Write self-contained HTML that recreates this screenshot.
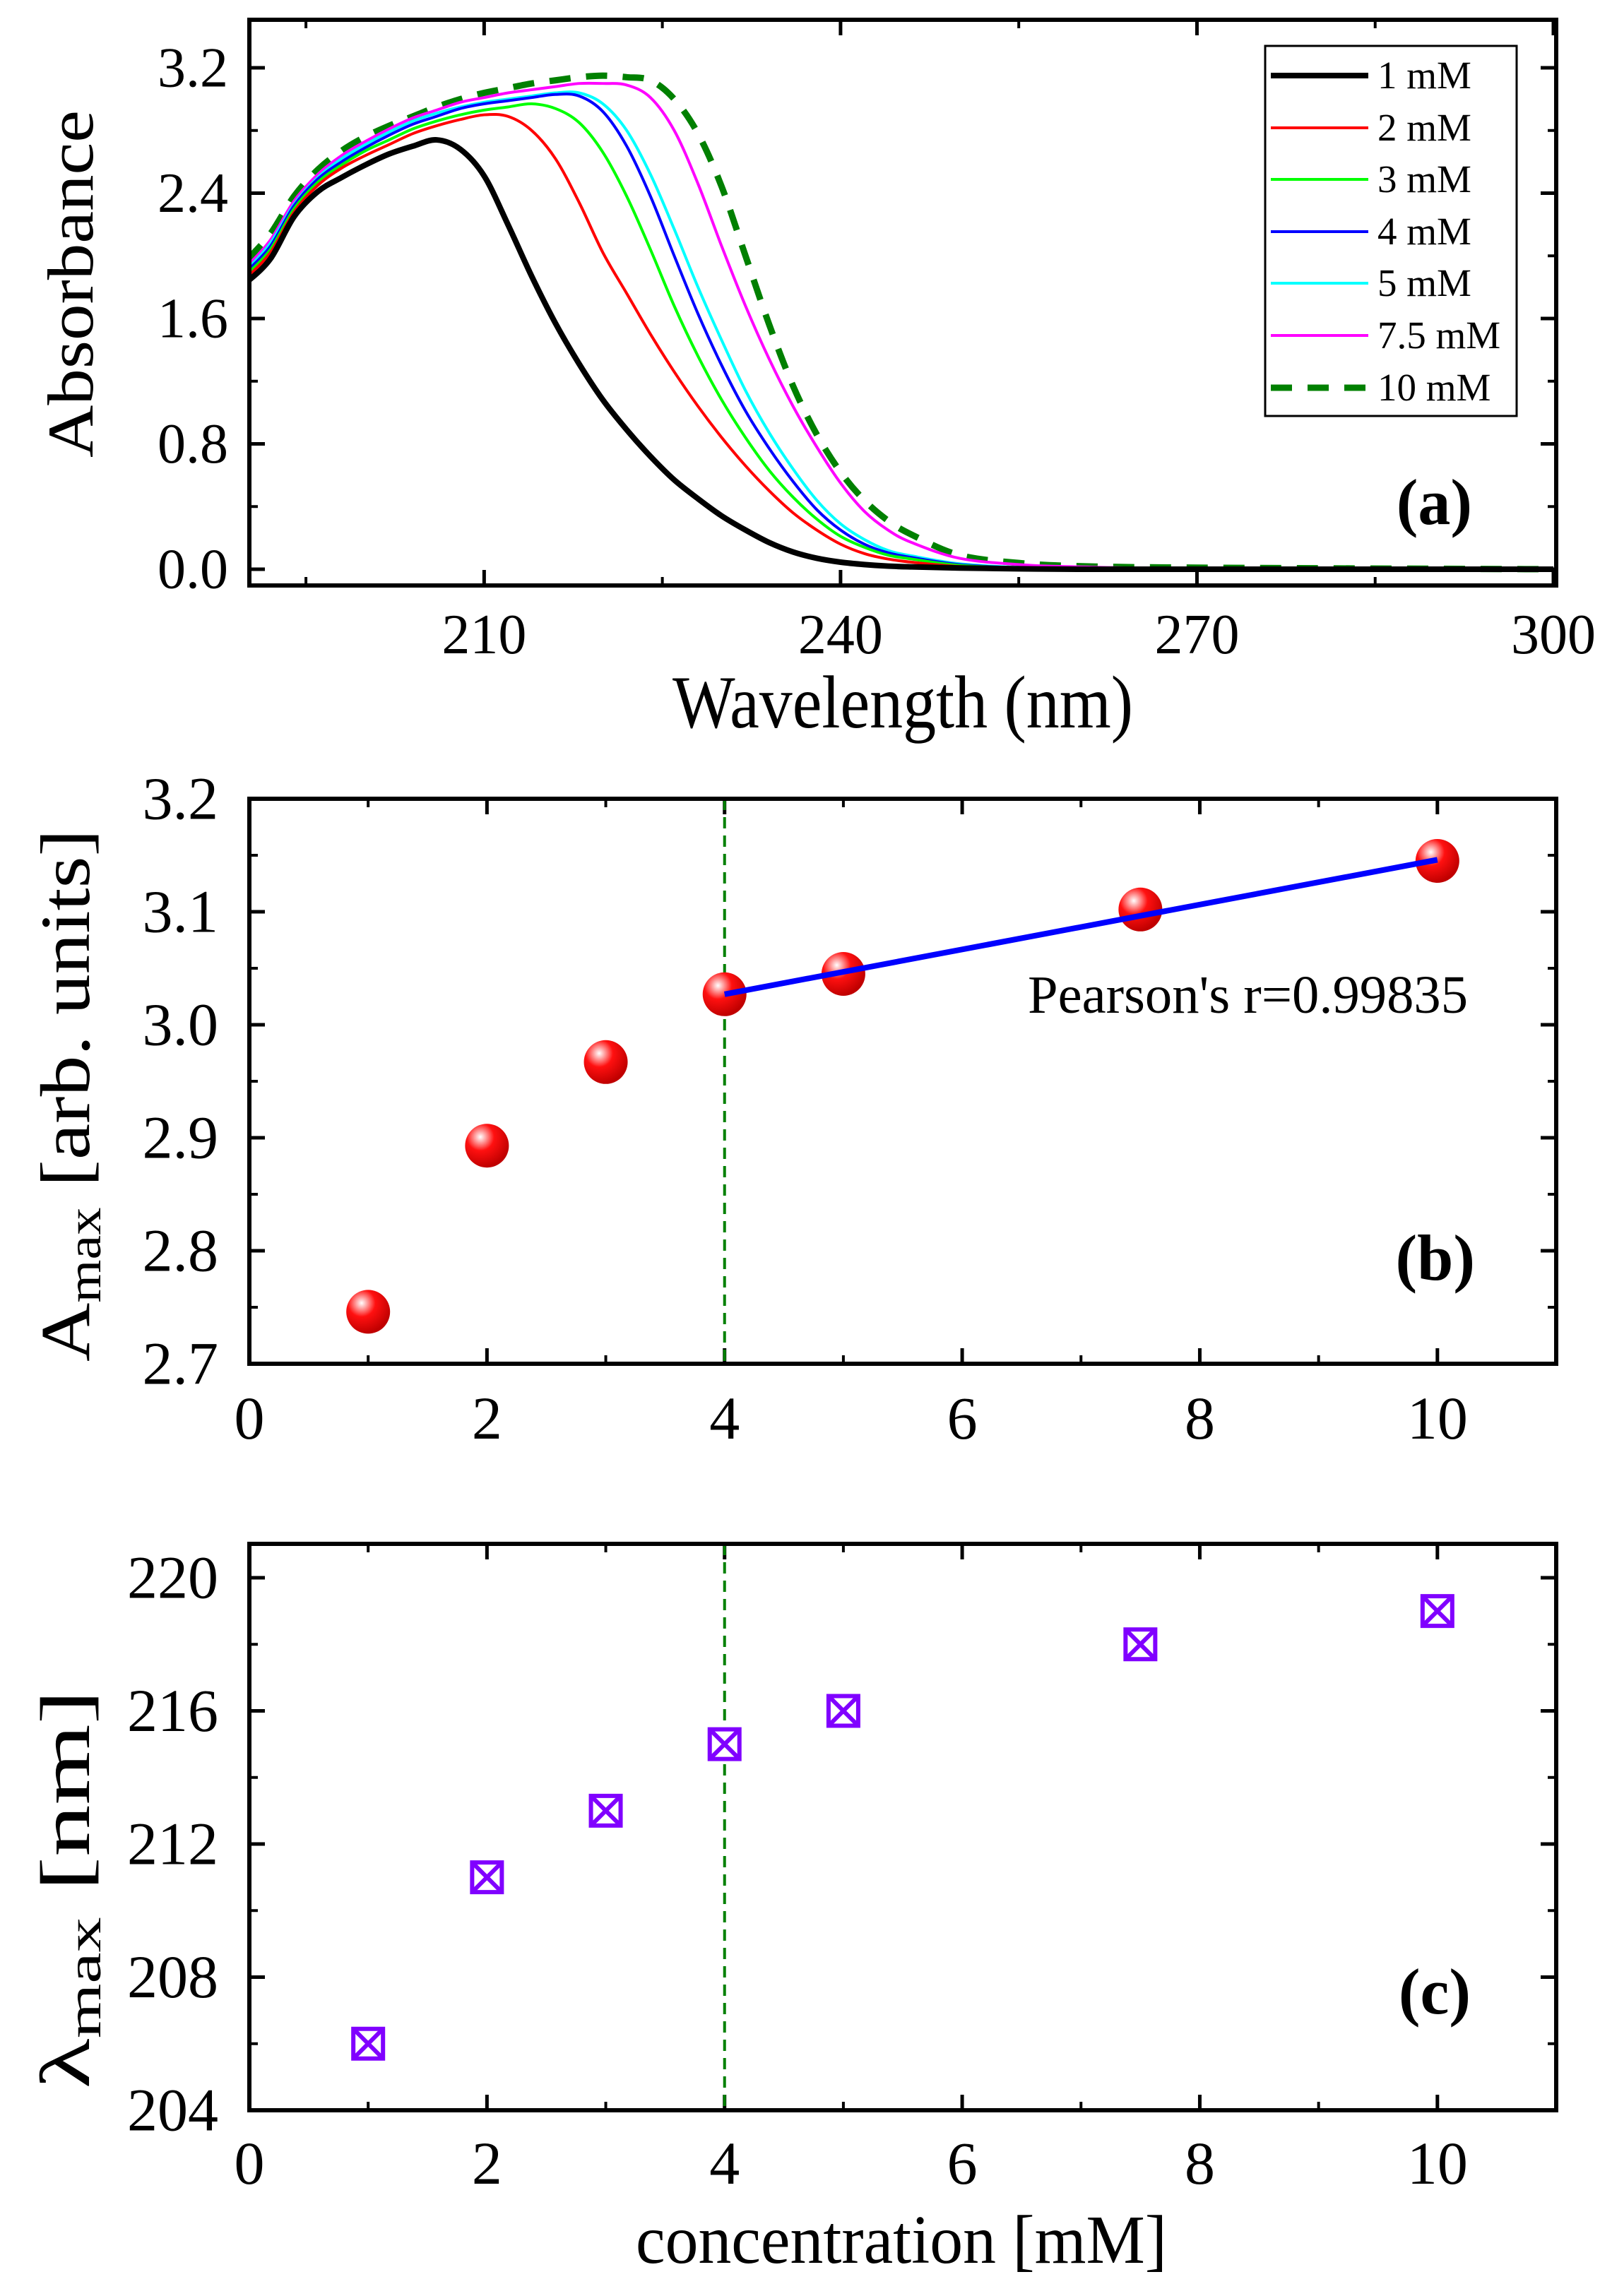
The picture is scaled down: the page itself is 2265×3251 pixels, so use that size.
<!DOCTYPE html>
<html><head><meta charset="utf-8"><style>
html,body{margin:0;padding:0;background:#fff}
svg{display:block}
text{font-family:"Liberation Serif",serif;fill:#000}
</style></head>
<body>
<svg id="fig" width="2265" height="3251" viewBox="0 0 2265 3251" xmlns="http://www.w3.org/2000/svg">
<rect width="2265" height="3251" fill="#fff"/>
<g id="pa"></g>
<g id="pb"></g>
<g id="pc"></g>
</svg>
<script>
// ---- Panel (a) data ----
const wavelengths = [190,192,194,196,198,200,202,204,206,208,210,212,214,216,218,220,222,224,226,228,230,232,234,236,238,240,242,244,246,250,255,260,270,300];
const seriesNames = ["1 mM","2 mM","3 mM","4 mM","5 mM","7.5 mM","10 mM"];
const abs1mM  = [1.83,1.98,2.25,2.41,2.50,2.58,2.65,2.70,2.74,2.68,2.51,2.20,1.87,1.57,1.31,1.08,0.89,0.72,0.57,0.45,0.34,0.25,0.17,0.11,0.07,0.045,0.03,0.02,0.015,0.008,0.003,0,0,0];
const abs2mM  = [1.86,2.02,2.28,2.45,2.56,2.64,2.71,2.78,2.83,2.87,2.90,2.89,2.80,2.62,2.34,2.02,1.76,1.50,1.26,1.04,0.84,0.66,0.50,0.36,0.25,0.16,0.10,0.065,0.045,0.018,0.006,0.002,0,0];
const abs3mM  = [1.88,2.04,2.30,2.47,2.58,2.67,2.74,2.81,2.86,2.90,2.93,2.95,2.97,2.94,2.85,2.66,2.38,2.04,1.68,1.36,1.08,0.84,0.63,0.46,0.32,0.21,0.14,0.09,0.065,0.025,0.01,0.004,0,0];
const abs4mM  = [1.90,2.06,2.32,2.49,2.60,2.69,2.77,2.84,2.89,2.94,2.97,2.99,3.01,3.03,3.02,2.92,2.70,2.38,2.00,1.63,1.30,1.01,0.77,0.56,0.38,0.25,0.16,0.105,0.075,0.03,0.01,0.005,0,0];
const abs5mM  = [1.91,2.08,2.33,2.50,2.62,2.71,2.79,2.86,2.91,2.95,2.98,3.00,3.02,3.04,3.04,2.97,2.80,2.52,2.17,1.80,1.46,1.14,0.87,0.64,0.44,0.29,0.19,0.12,0.085,0.035,0.012,0.005,0,0];
const abs75mM = [1.93,2.10,2.35,2.52,2.64,2.73,2.81,2.88,2.93,2.98,3.01,3.04,3.06,3.08,3.10,3.10,3.09,3.01,2.80,2.46,2.06,1.68,1.34,1.04,0.78,0.55,0.37,0.25,0.17,0.07,0.03,0.015,0.005,0];
const abs10mM = [1.97,2.14,2.38,2.55,2.67,2.76,2.83,2.89,2.95,3.00,3.04,3.07,3.10,3.12,3.14,3.15,3.14,3.12,3.00,2.78,2.44,2.00,1.56,1.17,0.86,0.62,0.44,0.31,0.22,0.09,0.04,0.02,0.01,0];
const seriesColors = ["#000000","#ff0000","#00ff00","#0000ff","#00ffff","#ff00ff","#008000"];
const xTicksA = [210,240,270,300];
const yTicksA = ["0.0","0.8","1.6","2.4","3.2"];
// ---- Panel (b),(c) data ----
const conc = [1,2,3,4,5,7.5,10];
const aMax = [2.746,2.893,2.967,3.027,3.045,3.102,3.145];
const fitX = [4,10];
const fitY = [3.027,3.146];
const lambdaMax = [206,211,213,215,216,218,219];
const xTicksBC = [0,2,4,6,8,10];
const yTicksB = ["2.7","2.8","2.9","3.0","3.1","3.2"];
const yTicksC = ["204","208","212","216","220"];
const pearsonText = "Pearson's r=0.99835";

const NS="http://www.w3.org/2000/svg";
function mk(parent,tag,attrs,txt){const e=document.createElementNS(NS,tag);for(const k in attrs)e.setAttribute(k,attrs[k]);if(txt!==undefined)e.textContent=txt;parent.appendChild(e);return e;}
function lin(d0,d1,r0,r1){return v=>r0+(v-d0)*(r1-r0)/(d1-d0);}

function frame(g,L,T,R,B,xs,ys,xMaj,xMin,yMaj,yMin,xLab,yLab,lfs,xOff,yGap){
  for(const v of xMaj){const x=xs(v);
    let t=mk(g,'line',{x1:x,y1:B,x2:x,y2:B-22,stroke:'#000','stroke-width':5});
    
    t=mk(g,'line',{x1:x,y1:T,x2:x,y2:T+22,stroke:'#000','stroke-width':5});
    }
  for(const v of xMin){const x=xs(v);
    let t=mk(g,'line',{x1:x,y1:B,x2:x,y2:B-12,stroke:'#000','stroke-width':4});
    
    t=mk(g,'line',{x1:x,y1:T,x2:x,y2:T+12,stroke:'#000','stroke-width':4});
    }
  for(const v of yMaj){const y=ys(v);
    let t=mk(g,'line',{x1:L,y1:y,x2:L+22,y2:y,stroke:'#000','stroke-width':5});
    
    t=mk(g,'line',{x1:R,y1:y,x2:R-22,y2:y,stroke:'#000','stroke-width':5});
    }
  for(const v of yMin){const y=ys(v);
    let t=mk(g,'line',{x1:L,y1:y,x2:L+12,y2:y,stroke:'#000','stroke-width':4});
    
    t=mk(g,'line',{x1:R,y1:y,x2:R-12,y2:y,stroke:'#000','stroke-width':4});
    }
  for(let i=0;i<xMaj.length;i++){const t=mk(g,'text',{x:xs(xMaj[i]),y:B+xOff,'font-size':lfs,'text-anchor':'middle'},xLab[i]);
    }
  for(let i=0;i<yMaj.length;i++){const t=mk(g,'text',{x:L-yGap,y:ys(yMaj[i])+lfs*0.33,'font-size':lfs,'text-anchor':'end'},yLab[i]);
    }
}
function border(g,L,T,R,B){const r=mk(g,'rect',{x:L,y:T,width:R-L,height:B-T,fill:'none',stroke:'#000','stroke-width':6});
  }
function smoothPath(pts){let d=`M${pts[0][0]},${pts[0][1]}`;
  for(let i=0;i<pts.length-1;i++){const p0=pts[Math.max(0,i-1)],p1=pts[i],p2=pts[i+1],p3=pts[Math.min(pts.length-1,i+2)];
    const c1=[p1[0]+(p2[0]-p0[0])/6,p1[1]+(p2[1]-p0[1])/6],c2=[p2[0]-(p3[0]-p1[0])/6,p2[1]-(p3[1]-p1[1])/6];
    d+=` C${c1[0]},${c1[1]} ${c2[0]},${c2[1]} ${p2[0]},${p2[1]}`;}
  return d;}

// ---------- Panel A ----------
(function(){
  const g=document.getElementById('pa');
  const L=353,R=2203,T=28,B=829;
  const xs=lin(190,300,349,2199), ys=lin(0,3.2,806,96);
  const yVals=yTicksA.map(Number);
  frame(g,L,T,R,B,xs,ys,xTicksA,[195,225,255,285],yVals,[0.4,1.2,2.0,2.8],xTicksA.map(String),yTicksA,80,96,30);
  const all=[abs1mM,abs2mM,abs3mM,abs4mM,abs5mM,abs75mM,abs10mM];
  const clip=mk(g,'clipPath',{id:'cpa'});mk(clip,'rect',{x:L,y:T,width:R-L,height:B-T});
  for(let s=all.length-1;s>=0;s--){
    const pts=wavelengths.map((w,i)=>[xs(w),ys(all[s][i])]);
    const p=mk(g,'path',{d:smoothPath(pts),fill:'none',stroke:seriesColors[s],'stroke-width':s===0?8:(s===6?9:4),'clip-path':'url(#cpa)'});
    if(s===6)p.setAttribute('stroke-dasharray','30 22');
    
    
  }
  border(g,L,T,R,B);
  const lg=mk(g,'g',{});
  
  mk(lg,'rect',{x:1791,y:65,width:356,height:524,fill:'#fff',stroke:'#000','stroke-width':3});
  const ly=[107,181,254,328,401,475,549];
  for(let s=0;s<7;s++){
    const e=mk(lg,'g',{});
    
    const l=mk(e,'line',{x1:1799,y1:ly[s],x2:1937,y2:ly[s],stroke:seriesColors[s],'stroke-width':s===0?8:(s===6?9:4)});
    if(s===6)l.setAttribute('stroke-dasharray','30 22');
    mk(e,'text',{x:1950,y:ly[s]+18,'font-size':55},seriesNames[s]);
  }
  let t=mk(g,'text',{x:2084,y:742,'font-size':92,'font-weight':'bold','text-anchor':'end'},'(a)');
  
  t=mk(g,'text',{x:1278,y:1030,'font-size':106,'text-anchor':'middle',textLength:652,lengthAdjust:'spacingAndGlyphs'},'Wavelength (nm)');
  
  t=mk(g,'text',{x:0,y:0,'font-size':92,'text-anchor':'middle',textLength:492,lengthAdjust:'spacingAndGlyphs',transform:'translate(131,402) rotate(-90)','font-family':'Liberation Sans, sans-serif'},'Absorbance');
  
})();

// ---------- Panel B ----------
(function(){
  const g=document.getElementById('pb');
  const L=353,R=2203,T=1131,B=1931;
  const xs=lin(0,11,L,R), ys=lin(2.7,3.2,B,T);
  frame(g,L,T,R,B,xs,ys,xTicksBC,[1,3,5,7,9],yTicksB.map(Number),[2.75,2.85,2.95,3.05,3.15],xTicksBC.map(String),yTicksB,86,106,44);
  let v=mk(g,'line',{x1:xs(4),y1:T,x2:xs(4),y2:B,stroke:'#008000','stroke-width':4,'stroke-dasharray':'16 10'});
  
  const defs=mk(g,'defs',{});
  const rg=mk(defs,'radialGradient',{id:'ball',cx:'0.35',cy:'0.3',r:'0.7'});
  mk(rg,'stop',{offset:'0','stop-color':'#ffffff'});
  mk(rg,'stop',{offset:'0.15','stop-color':'#ffb0b0'});
  mk(rg,'stop',{offset:'0.45','stop-color':'#ff1010'});
  mk(rg,'stop',{offset:'1','stop-color':'#c00000'});
  for(let i=0;i<conc.length;i++){
    const c=mk(g,'circle',{cx:xs(conc[i]),cy:ys(aMax[i]),r:31,fill:'url(#ball)'});
    
  }
  const f=mk(g,'line',{x1:xs(fitX[0]),y1:ys(fitY[0]),x2:xs(fitX[1]),y2:ys(fitY[1]),stroke:'#0000ff','stroke-width':8});
  
  border(g,L,T,R,B);
  let t=mk(g,'text',{x:2078,y:1434,'font-size':76,'text-anchor':'end',textLength:623,lengthAdjust:'spacingAndGlyphs'},pearsonText);
  
  t=mk(g,'text',{x:2088,y:1812,'font-size':92,'font-weight':'bold','text-anchor':'end'},'(b)');
  
  t=mk(g,'text',{x:0,y:0,'font-size':100,'text-anchor':'middle',textLength:754,lengthAdjust:'spacingAndGlyphs',transform:'translate(126,1551) rotate(-90)'});
  
  mk(t,'tspan',{},'A');mk(t,'tspan',{'font-size':68,dy:16},'max');mk(t,'tspan',{dy:-16},' [arb. units]');
})();

// ---------- Panel C ----------
(function(){
  const g=document.getElementById('pc');
  const L=353,R=2203,T=2186,B=2988;
  const xs=lin(0,11,L,R), ys=lin(204,220,B,2234);
  frame(g,L,T,R,B,xs,ys,xTicksBC,[1,3,5,7,9],yTicksC.map(Number),[206,210,214,218],xTicksBC.map(String),yTicksC,86,104,44);
  let v=mk(g,'line',{x1:xs(4),y1:T,x2:xs(4),y2:B,stroke:'#008000','stroke-width':4,'stroke-dasharray':'16 10'});
  
  for(let i=0;i<conc.length;i++){
    const x=xs(conc[i]),y=ys(lambdaMax[i]),h=21;
    const m=mk(g,'g',{stroke:'#8000ff','stroke-width':6,fill:'none'});
    
    mk(m,'rect',{x:x-h,y:y-h,width:2*h,height:2*h,fill:'#fff'});
    mk(m,'line',{x1:x-h,y1:y-h,x2:x+h,y2:y+h});
    mk(m,'line',{x1:x-h,y1:y+h,x2:x+h,y2:y-h});
  }
  border(g,L,T,R,B);
  let t=mk(g,'text',{x:2082,y:2851,'font-size':92,'font-weight':'bold','text-anchor':'end'},'(c)');
  
  t=mk(g,'text',{x:1276,y:3204,'font-size':98,'text-anchor':'middle',textLength:752,lengthAdjust:'spacingAndGlyphs'},'concentration [mM]');
  
  t=mk(g,'text',{x:0,y:0,'font-size':100,'text-anchor':'middle',textLength:565,lengthAdjust:'spacingAndGlyphs',transform:'translate(126,2675) rotate(-90)'});
  
  mk(t,'tspan',{},'λ');mk(t,'tspan',{'font-size':68,dy:16},'max');mk(t,'tspan',{dy:-16},' [nm]');
})();
</script>
</body></html>
